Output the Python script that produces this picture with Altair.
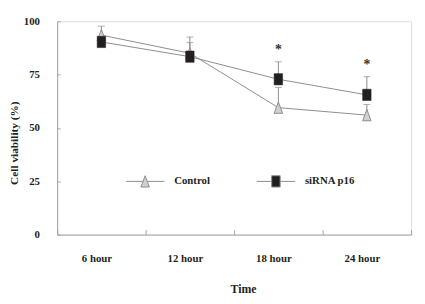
import altair as alt
import pandas as pd

times = ["6 hour", "12 hour", "18 hour", "24 hour"]
series = ["Control", "siRNA p16"]
control_mean = [93.5, 85.0, 59.5, 56.0]
control_upper = [97.7, 92.6, 69.0, 61.0]
sirna_mean = [90.3, 83.4, 72.8, 65.5]
sirna_upper = [92.0, 90.0, 81.0, 74.0]
star_times = ["18 hour", "24 hour"]
star_pos = [84.5, 77.5]
star_text = ["*", "*"]
y_ticks = [0, 25, 50, 75, 100]

rows = []
for name, means, uppers in [(series[0], control_mean, control_upper),
                            (series[1], sirna_mean, sirna_upper)]:
    for t, m, u in zip(times, means, uppers):
        rows.append({"time": t, "series": name, "mean": m, "upper": u})
df = pd.DataFrame(rows)
stars = pd.DataFrame({"time": star_times, "pos": star_pos, "label": star_text})

W, H = 360, 217
FONT = "Liberation Serif"
AXC = "#a3a3a3"
TXT = "#231f20"
LINE = "#8c8c8c"
TRI_FILL = "#d0d0d0"

tri = "M0,-1L0.75,1L-0.75,1Z"
sq = "M-0.75,-1H0.75V1H-0.75Z"
leg_tri = "M-3.4,0H-0.38M0.38,0H3.4M0,-1L0.75,1L-0.75,1Z"
leg_sq = "M-3.4,0H-0.75M0.75,0H3.4M-0.75,-1H0.75V1H-0.75Z"

xscale = alt.Scale(type="band", paddingInner=0, paddingOuter=0)
yscale = alt.Scale(domain=[0, 100], nice=False)


def x_none():
    return alt.X("time:N", sort=times, scale=xscale, axis=None)


def y_none(field="mean:Q"):
    return alt.Y(field, scale=yscale, axis=None)


x_main = alt.X("time:N", sort=times, scale=xscale,
               axis=alt.Axis(orient="bottom", title="Time", ticks=False, tickSize=0,
                             labelPadding=18, labelOffset=-5, labelAngle=0,
                             titlePadding=21, titleX=189, tickBand="extent",
                             domainColor=AXC, labelColor=TXT, titleColor=TXT,
                             labelFont=FONT, titleFont=FONT, labelFontSize=11,
                             titleFontSize=12, labelFontWeight="bold",
                             titleFontWeight="bold", grid=False))
y_main = alt.Y("mean:Q", scale=yscale,
               axis=alt.Axis(orient="left", values=y_ticks, title="Cell viability (%)",
                             ticks=False, tickSize=0, labelPadding=18, titlePadding=4,
                             titleY=123.5, domainColor=AXC, labelColor=TXT,
                             titleColor=TXT, labelFont=FONT, titleFont=FONT,
                             labelFontSize=11, titleFontSize=11.5,
                             labelFontWeight="bold", titleFontWeight="bold", grid=False))

lines = alt.Chart(df).mark_line(color=LINE, strokeWidth=1).encode(
    x=x_main, y=y_main, detail="series:N")

err = alt.Chart(df).mark_rule(color=LINE, strokeWidth=1).encode(
    x=x_none(), y=y_none(), y2="upper:Q")

caps = alt.Chart(df).mark_tick(color=LINE, thickness=1, size=7, orient="horizontal").encode(
    x=x_none(), y=y_none("upper:Q"))

pts_control = alt.Chart(df).transform_filter(
    alt.datum.series == series[0]
).mark_point(shape=tri, filled=True, fill=TRI_FILL, stroke=LINE, strokeWidth=1,
             opacity=1, size=132).encode(
    x=alt.X("time:N", sort=times, scale=xscale,
            axis=alt.Axis(orient="top", offset=-H, domain=False, labels=False,
                          title=None, ticks=True, tickSize=5, tickBand="extent",
                          tickColor=AXC, grid=False)),
    y=alt.Y("mean:Q", scale=yscale,
            axis=alt.Axis(orient="right", offset=-W, values=y_ticks, domain=False,
                          labels=False, title=None, ticks=True, tickSize=3,
                          tickColor=AXC, grid=False)),
)

pts_sirna = alt.Chart(df).transform_filter(
    alt.datum.series == series[1]
).mark_point(shape=sq, filled=True, fill=TXT, stroke=TXT, strokeWidth=0.5,
             opacity=1, size=132).encode(x=x_none(), y=y_none())

leg = alt.Legend(orient="none", legendX=83, legendY=156, direction="horizontal",
                 title=None, symbolSize=132, symbolStrokeColor=LINE,
                 symbolStrokeWidth=1, labelFont=FONT, labelFontSize=11,
                 labelFontWeight="bold", labelColor=TXT, labelOffset=23,
                 columnPadding=44, labelLimit=200)

legend_layer = alt.Chart(df).transform_filter("false").mark_point(
    filled=True, strokeWidth=1, opacity=1, size=132
).encode(
    x=x_none(), y=y_none(),
    shape=alt.Shape("series:N", scale=alt.Scale(domain=series, range=[leg_tri, leg_sq]),
                    legend=leg),
    fill=alt.Fill("series:N", scale=alt.Scale(domain=series, range=[TRI_FILL, TXT]),
                  legend=leg),
    stroke=alt.Stroke("series:N", scale=alt.Scale(domain=series, range=[LINE, LINE]),
                      legend=leg),
)

star_layer = alt.Chart(stars).mark_text(font=FONT, fontSize=14, fontWeight="bold",
                                        color="#333333", baseline="alphabetic",
                                        align="center").encode(
    x=x_none(), y=y_none("pos:Q"), text="label:N")

chart = alt.layer(lines, err, caps, pts_control, pts_sirna, legend_layer,
                  star_layer).resolve_axis(
    x="independent", y="independent"
).properties(
    width=W, height=H,
    padding={"left": 0, "top": 5, "right": 5, "bottom": 0},
).configure_view(strokeWidth=0).configure(font=FONT, background="white")

chart.save("out.html", embed_options={"renderer": "svg", "actions": False})
